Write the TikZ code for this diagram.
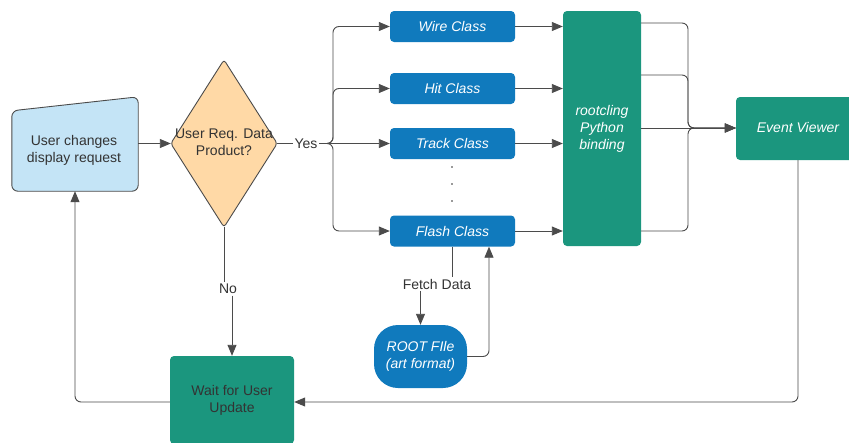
\documentclass[tikz,border=0pt]{standalone}
\usepackage{fontspec}
\setmainfont{Liberation Sans}
\usetikzlibrary{arrows.meta,shapes.misc,calc}
\definecolor{lblue}{RGB}{196,228,246}
\definecolor{peach}{RGB}{255,217,166}
\definecolor{cblue}{RGB}{16,122,189}
\definecolor{teal2}{RGB}{27,150,126}
\definecolor{lgray}{RGB}{75,75,75}
\definecolor{tgray}{RGB}{51,51,51}
\begin{document}
\begin{tikzpicture}[x=1pt,y=-1pt,
  font=\fontsize{14}{17}\selectfont,
  conn/.style={draw=lgray, line width=0.9pt, rounded corners=6},
  arr/.style={conn, -{Triangle[length=11pt,width=9pt]}},
  cls/.style={fill=cblue, draw=none, rounded corners=4, minimum width=125pt, minimum height=31pt, text=white, font=\fontsize{14}{17}\selectfont\itshape, inner sep=0pt, align=center},
  tealbox/.style={fill=teal2, draw=none, rounded corners=4, inner sep=0pt, align=center},
  ghost/.style={draw=none, inner sep=0pt, align=center},
  lbl/.style={inner sep=1.5pt, text=tgray, fill=white}]
\useasboundingbox (0,0) rectangle (849,442);

% user input (manual input shape)
\node[ghost, minimum width=126pt, minimum height=94pt] (user) at (75,144) {};
\draw[fill=lblue, draw=lgray, line width=0.9pt, rounded corners=6]
  ([yshift=-14pt]user.north west) -- (user.north east) -- (user.south east) -- (user.south west) -- cycle;
\node[ghost, text=tgray] (usertext) at (74,150.5) {User changes\\display request};

% decision diamond
\node[ghost, minimum width=106pt, minimum height=167pt, text=tgray] (dia) at (224,143.5) {};
\draw[fill=peach, draw=lgray, line width=0.9pt, rounded corners=3]
  (dia.north) -- (dia.east) -- (dia.south) -- (dia.west) -- cycle;
\node[ghost, text=tgray] (diatext) at (224,142) {User Req. Data\\Product?};

% class boxes
\node[cls] (wire)  at (452.5,26.5) {Wire Class};
\node[cls] (hit)   at (452.5,88.5) {Hit Class};
\node[cls] (track) at (452.5,143.5) {Track Class};
\node[cls] (flash) at (452.5,231) {Flash Class};
\fill[tgray] (452,167) circle (0.8pt) (452,184) circle (0.8pt) (452,201) circle (0.8pt);

% rootcling
\node[tealbox, minimum width=78pt, minimum height=235pt, text=white, font=\fontsize{14}{17}\selectfont\itshape] (rc) at (602,128.5) {rootcling\\Python\\binding};

% event viewer
\node[tealbox, minimum width=124pt, minimum height=63pt, text=white, font=\fontsize{14}{17}\selectfont\itshape] (ev) at (798,128.5) {};
\node[ghost, text=white, font=\fontsize{14}{17}\selectfont\itshape] (evtext) at (798,127) {Event Viewer};

% wait box
\node[tealbox, minimum width=124pt, minimum height=88pt, text=tgray] (wait) at (232,400) {Wait for User\\Update};

% root file
\node[fill=cblue, draw=none, rounded corners=24pt, minimum width=93pt, minimum height=63pt, text=white, font=\fontsize{14}{17}\selectfont\itshape, inner sep=0pt, align=center] (root) at (420.5,356.5) {ROOT FIle\\(art format)};

% labels
\node[lbl] (yes) at (306,143.5) {Yes};
\node[lbl] (no) at (228,289) {No};
\node[lbl] (fetch) at (437,284) {Fetch Data};

% connectors
\draw[arr] (user.east |- 0,143.5) -- (dia.west);
\draw[conn] (dia.east) -- (yes.west);
\coordinate (j) at (333,143.5);
\draw[arr] (yes.east) -- (j) |- (wire.west);
\draw[arr] (yes.east) -- (j) |- (hit.west);
\draw[arr] (yes.east) -- (track.west);
\draw[arr] (yes.east) -- (j) |- (flash.west);

\draw[arr] (wire.east) -- (wire.east -| rc.west);
\draw[arr] (hit.east) -- (hit.east -| rc.west);
\draw[arr] (track.east) -- (track.east -| rc.west);
\draw[arr] (flash.east) -- (flash.east -| rc.west);

\coordinate (m) at (688,128);
\draw[arr] (rc.east |- 0,23) -| (m) -- (ev.west |- m);
\draw[arr] (rc.east |- 0,75) -| (m) -- (ev.west |- m);
\draw[arr] (rc.east |- 0,128) -- (ev.west |- m);
\draw[arr] (rc.east |- 0,231) -| (m) -- (ev.west |- m);

\draw[conn] (flash.south) -- (flash.south |- fetch.north);
\draw[arr] (root.north |- fetch.south) -- (root.north);
\draw[arr] (root.east) -| ([xshift=36.5pt]flash.south);

\draw[conn] (dia.south) -- (dia.south |- no.north);
\draw[arr] (wait.north |- no.south) -- (wait.north);

\draw[arr] (ev.south) |- (wait.east |- 0,402);
\draw[arr] (wait.west |- 0,402) -| (user.south);
\end{tikzpicture}
\end{document}
